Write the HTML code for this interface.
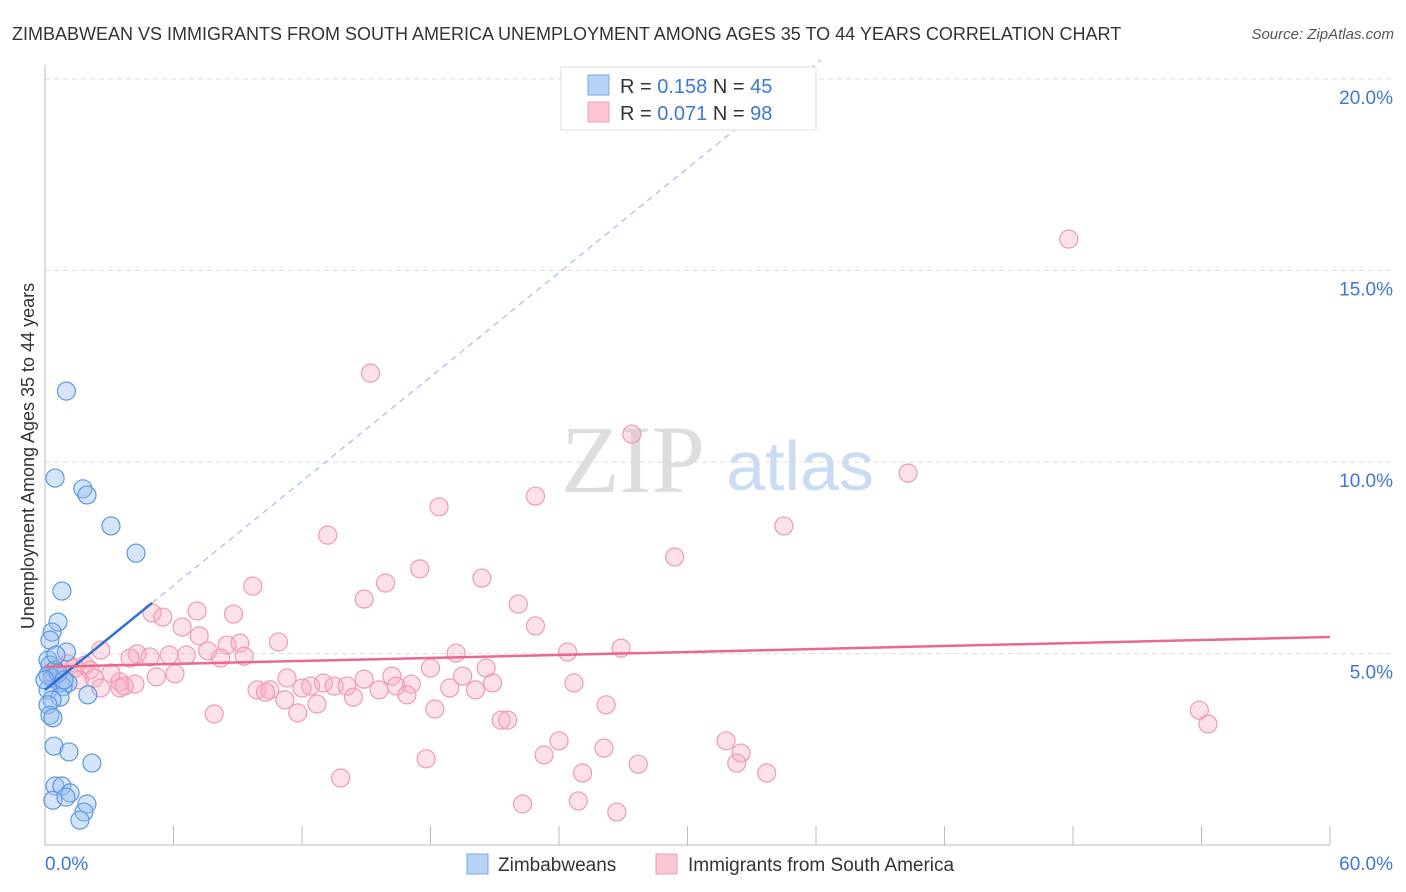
<!DOCTYPE html>
<html><head><meta charset="utf-8"><style>
body{margin:0;background:#fff;font-family:"Liberation Sans",sans-serif}
svg{display:block}
</style></head><body>
<svg id="c" width="1406" height="892" font-family="Liberation Sans, sans-serif">
<text x="12" y="40" font-size="18" fill="#333">ZIMBABWEAN VS IMMIGRANTS FROM SOUTH AMERICA UNEMPLOYMENT AMONG AGES 35 TO 44 YEARS CORRELATION CHART</text>
<text x="1394" y="39" font-size="15" fill="#555" text-anchor="end" font-style="italic">Source: ZipAtlas.com</text>
<text x="633" y="492" font-size="96" fill="#ddd" text-anchor="middle" font-family="Liberation Serif, serif">ZIP</text>
<text x="800" y="490" font-size="70" fill="#c9dcf3" text-anchor="middle">atlas</text>
<text transform="translate(34,456) rotate(-90)" font-size="18" fill="#333" text-anchor="middle">Unemployment Among Ages 35 to 44 years</text>
<g id="grid"></g><g id="axes"></g><g id="pts"></g><g id="lines"></g>
<g>
<rect x="561" y="67" width="255" height="63" fill="#fff" stroke="#ddd"/>
<rect x="588" y="75" width="21" height="20" fill="#b7d3f6" stroke="#7aa9e6"/>
<rect x="588" y="102" width="21" height="20" fill="#fbc6d4" stroke="#f09ab2"/>
<text x="620" y="93" font-size="20" fill="#333">R = <tspan fill="#3b78d6">0.158</tspan>   N = <tspan fill="#3b78d6">45</tspan></text>
<text x="620" y="120" font-size="20" fill="#333">R = <tspan fill="#3b78d6">0.071</tspan>   N = <tspan fill="#3b78d6">98</tspan></text>
</g>
<g>
<rect x="467" y="854" width="21" height="20" fill="#b7d3f6" stroke="#7aa9e6"/>
<text x="498" y="871" font-size="19" fill="#333">Zimbabweans</text>
<rect x="656" y="854" width="21" height="20" fill="#fbc6d4" stroke="#f09ab2"/>
<text x="688" y="871" font-size="19" fill="#333">Immigrants from South America</text>
</g>
</svg>
<script>
const xTicks=[0,6,12,18,24,30,36,42,48,54,60];
const yTicks=[5,10,15,20];
const xLabels=["0.0%","60.0%"];
const blueX=[1.0,0.47,1.77,1.96,3.08,4.25,0.79,0.61,0.33,0.23,1.0,0.14,0.23,0.47,0.33,0.70,1.07,0.84,0.14,2.0,0.70,0.33,0.14,0.23,0.37,0.42,1.12,2.19,0.47,0.79,1.17,0.37,0.98,1.96,1.82,1.63,0.14,0.61,0,0.89,0.51];
const blueY=[11.85,9.58,9.30,9.14,8.33,7.62,6.63,5.82,5.56,5.35,5.04,4.83,4.70,4.57,4.36,4.23,4.23,4.13,4.05,3.92,3.86,3.79,3.66,3.39,3.32,2.58,2.43,2.14,1.54,1.54,1.36,1.17,1.25,1.07,0.86,0.65,4.44,4.49,4.31,4.31,4.96];
const pinkX=[47.8,15.2,27.4,40.3,22.9,18.4,34.5,13.2,29.4,17.5,20.4,15.9,9.7,14.9,22.1,5.0,7.1,5.5,8.8,22.9,6.4,7.2,10.9,9.1,8.5,2.6,4.3,7.6,24.4,26.9,19.2,5.8,9.3,6.6,4.9,8.2,3.97,1.87,18.0,20.6,3.08,6.07,16.2,14.9,19.5,11.3,5.2,13.0,3.5,4.2,12.4,17.1,20.9,24.7,9.9,10.5,13.5,14.1,16.4,12.0,10.3,18.9,15.6,20.1,16.9,14.4,11.2,12.7,18.2,26.2,11.8,7.9,53.9,54.3,21.3,21.6,24.0,31.8,26.1,32.5,23.3,17.8,27.7,32.3,25.1,33.7,13.8,24.9,22.3,26.7,0.7,1.07,1.4,2.1,1.6,2.3,0.33,2.6,3.5,3.7];
const pinkY=[15.82,12.32,10.73,9.71,9.11,8.83,8.33,8.09,7.52,7.21,6.97,6.84,6.76,6.42,6.29,6.06,6.11,5.95,6.03,5.72,5.69,5.46,5.30,5.27,5.22,5.09,4.99,5.07,5.04,5.14,5.01,4.96,4.93,4.96,4.91,4.88,4.88,4.70,4.62,4.62,4.49,4.47,4.41,4.33,4.41,4.36,4.39,4.23,4.26,4.20,4.15,4.20,4.23,4.23,4.05,4.05,4.15,4.15,4.15,4.10,3.99,4.10,4.05,4.05,3.92,3.86,3.79,3.68,3.55,3.66,3.45,3.42,3.52,3.16,3.26,3.26,2.72,2.72,2.53,2.40,2.35,2.25,2.11,2.14,1.88,1.88,1.75,1.15,1.07,0.86,4.62,4.73,4.62,4.57,4.31,4.36,4.52,4.10,4.10,4.15];
const blueTrend=[4.05,0.454];
const pinkTrend=[4.65,0.013];
const X=v=>45+v*1285/60, Y=v=>845-v*38.3;
const NS='http://www.w3.org/2000/svg';
function mk(p,t,a){const e=document.createElementNS(NS,t);for(const k in a)e.setAttribute(k,a[k]);document.getElementById(p).appendChild(e);return e;}
yTicks.forEach(t=>{
 const g=mk('grid','line',{x1:45,x2:1394,y1:Y(t),y2:Y(t),stroke:'#ddd','stroke-dasharray':'5,4'});
 
 
 const l=mk('grid','text',{x:1393,y:Y(t)+25,'font-size':19,fill:'#3b78d6','text-anchor':'end'});l.textContent=t.toFixed(1)+'%';
 
 
});
const ax=mk('axes','path',{d:'M45,65V845H1330',stroke:'#bbb',fill:'none'});


xTicks.forEach(t=>{const k=mk('axes','line',{x1:X(t),x2:X(t),y1:826,y2:845,stroke:'#bbb'});
 
 });
[[0,45,'start'],[60,1393,'end']].forEach((d,i)=>{const l=mk('axes','text',{x:d[1],y:870,'font-size':19,fill:'#3b78d6','text-anchor':d[2]});l.textContent=xLabels[i];
 
 });
pinkX.forEach((v,i)=>{const c=mk('pts','circle',{cx:X(v),cy:Y(pinkY[i]),r:9,fill:'rgba(248,170,192,0.35)',stroke:'#ef9ab2','stroke-width':1.2});
 
 });
blueX.forEach((v,i)=>{const c=mk('pts','circle',{cx:X(v),cy:Y(blueY[i]),r:9,fill:'rgba(150,190,240,0.4)',stroke:'#5d97e0','stroke-width':1.2});
 
 });
const bEnd=(20.5-blueTrend[0])/blueTrend[1];
const bd=mk('lines','line',{x1:X(5),y1:Y(blueTrend[0]+blueTrend[1]*5),x2:X(bEnd),y2:Y(20.5),stroke:'#8fb1e6','stroke-width':1,'stroke-dasharray':'6,5'});


const bs=mk('lines','line',{x1:X(0),y1:Y(blueTrend[0]),x2:X(5),y2:Y(blueTrend[0]+blueTrend[1]*5),stroke:'#2f6fd3','stroke-width':2.5});


const ps=mk('lines','line',{x1:X(0),y1:Y(pinkTrend[0]),x2:X(60),y2:Y(pinkTrend[0]+pinkTrend[1]*60),stroke:'#e8688f','stroke-width':2.5});


</script>
</body></html>
